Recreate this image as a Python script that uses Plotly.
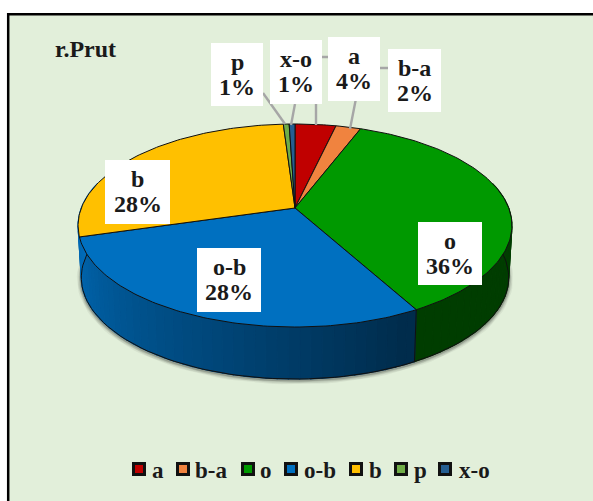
import numpy as np
import plotly.graph_objects as go

# ---- data ----
categories = ["a", "b-a", "o", "o-b", "b", "p", "x-o"]
shares = [3.6, 2.2, 36.2, 28.49, 28.49, 0.51, 0.51]
top_colors = ["#C00000", "#F0833F", "#009900", "#0070C0", "#FFC000", "#70AD47", "#255E91"]
chart_title = "r.Prut"

# ---- layout (pixel canvas) ----
W, H = 593, 501
APEX_X, APEX_Y = 295.0, 208.0
RX, RY, PERSP = 213.7, 98.5, 0.1725
DEPTH, BASE_SCALE = 52.0, 0.985
WALL_FROM, WALL_TO = 75.0, 285.0
label_boxes = {  # x0, x1, y0, y1
    "a": (328, 380, 37, 101), "b-a": (388, 441, 49, 112), "o": (418, 482, 222, 285),
    "o-b": (197, 261, 248, 312), "b": (105, 170, 160, 224), "p": (211, 263, 43, 106),
    "x-o": (270, 322, 40, 104),
}
leaders = [
    [(263, 93), (285, 124)],
    [(295, 104), (291, 125)],
    [(328, 57), (316, 57), (316, 125)],
    [(388, 68), (362, 68), (350, 129)],
]
legend_swatch_x = [139, 183, 248, 291, 356, 401, 445]
legend_text_x = [149.5, 192.5, 257.5, 301.5, 366.5, 411.5, 456.5]
LEGEND_Y = 470


def rim(theta_deg, lower=False):
    t = np.radians(np.asarray(theta_deg, dtype=float))
    w = 1 + PERSP * np.cos(t)
    dx = RX * np.sin(t) / w
    dy = -RY * np.cos(t) / w
    if lower:
        return APEX_X + BASE_SCALE * dx, APEX_Y + DEPTH + dy
    return APEX_X + dx, APEX_Y + dy


def shade(theta_deg):
    return np.interp(theta_deg, [90, 155, 200, 250, 280], [0.40, 0.40, 0.64, 0.88, 1.0])


def scaled(hexcol, f):
    r, g, b = [int(hexcol[i:i + 2], 16) for i in (1, 3, 5)]
    return f"rgb({int(r * f)},{int(g * f)},{int(b * f)})"


fig = go.Figure()
skip = dict(showlegend=False, hoverinfo="skip")

# soft shadow hugging the base rim
arc = np.arange(WALL_FROM, WALL_TO + 1, 2.0)
sx, sy = rim(arc, lower=True)
for lw, alpha in [(9, 0.05), (7, 0.07), (5, 0.10), (3, 0.16)]:
    fig.add_trace(go.Scatter(x=sx, y=sy + 1, mode="lines",
                             line=dict(color=f"rgba(0,0,0,{alpha})", width=lw), **skip))

edges = 360 * np.concatenate([[0], np.cumsum(shares)]) / sum(shares)
front_last = int(np.searchsorted(edges, 240.0)) - 1  # slice that reaches the left silhouette

# side wall, split into strips for the gradient
for i, col in enumerate(top_colors):
    if i > front_last:
        continue
    a0 = max(edges[i], WALL_FROM)
    a1 = WALL_TO if i == front_last else min(edges[i + 1], WALL_TO)
    if a1 <= a0:
        continue
    steps = np.linspace(a0, a1, max(2, int((a1 - a0) / 2.5) + 1))
    for s0, s1 in zip(steps[:-1], steps[1:]):
        seg = np.linspace(s0, s1, 3)
        tx, ty = rim(seg)
        bx, by = rim(seg, lower=True)
        c = scaled(col, float(shade((s0 + s1) / 2)))
        fig.add_trace(go.Scatter(x=np.r_[tx, bx[::-1], tx[0]], y=np.r_[ty, by[::-1], ty[0]],
                                 mode="lines", fill="toself", fillcolor=c,
                                 line=dict(color=c, width=1.2), **skip))
# side outlines
fig.add_trace(go.Scatter(x=sx, y=sy, mode="lines", line=dict(color="#101010", width=1), **skip))
for e in edges[1:front_last + 1]:
    if WALL_FROM < e < WALL_TO:
        tx, ty = rim(e)
        bx, by = rim(e, lower=True)
        fig.add_trace(go.Scatter(x=[tx, bx], y=[ty, by], mode="lines",
                                 line=dict(color="#101010", width=1), **skip))

# top face
for i, (cat, col) in enumerate(zip(categories, top_colors)):
    seg = np.linspace(edges[i], edges[i + 1], max(3, int(edges[i + 1] - edges[i]) + 2))
    x, y = rim(seg)
    fig.add_trace(go.Scatter(x=np.r_[APEX_X, x, APEX_X], y=np.r_[APEX_Y, y, APEX_Y],
                             mode="lines", fill="toself", fillcolor=col,
                             line=dict(color="#101010", width=1), name=cat, showlegend=False,
                             hovertemplate=f"{cat}: {shares[i]}%<extra></extra>"))

# legend swatches
for cat, col, lx in zip(categories, top_colors, legend_swatch_x):
    fig.add_trace(go.Scatter(x=[lx], y=[LEGEND_Y - 1], mode="markers", name=cat, showlegend=False,
                             hoverinfo="skip",
                             marker=dict(symbol="square", size=11, color=col,
                                         line=dict(color="#111111", width=3))))

FONT = "Liberation Serif"
shapes = [dict(type="rect", xref="x", yref="y", x0=8.2, x1=620, y0=14.3, y1=530,
               line=dict(color="#000000", width=2.5), fillcolor="#E2EFDA", layer="below")]
for pts in leaders:
    path = "M " + " L ".join(f"{px},{py}" for px, py in pts)
    shapes.append(dict(type="path", xref="x", yref="y", path=path, layer="above",
                       line=dict(color="#A6A6A6", width=2.4)))
annotations = []
pct = [int(np.floor(s + 0.5)) for s in shares]
for cat, p in zip(categories, pct):
    x0, x1, y0, y1 = label_boxes[cat]
    shapes.append(dict(type="rect", xref="x", yref="y", x0=x0, x1=x1, y0=y0, y1=y1,
                       line=dict(width=0), fillcolor="#FFFFFF", layer="above"))
    ym = (y0 + y1) / 2
    annotations.append(dict(x=(x0 + x1) / 2, y=ym - 13, text=f"<b>{cat}</b>", showarrow=False,
                            xref="x", yref="y", font=dict(family=FONT, size=24, color="#1a1a1a")))
    annotations.append(dict(x=(x0 + x1) / 2, y=ym + 12, text=f"<b>{p}%</b>", showarrow=False,
                            xref="x", yref="y", font=dict(family=FONT, size=24, color="#1a1a1a")))
annotations.append(dict(x=52.5, y=49, text=f"<b>{chart_title}</b>", showarrow=False, xanchor="left",
                        xref="x", yref="y", font=dict(family=FONT, size=24, color="#1a1a1a")))
for cat, lx in zip(categories, legend_text_x):
    annotations.append(dict(x=lx, y=LEGEND_Y, text=f"<b>{cat}</b>", showarrow=False, xanchor="left",
                            xref="x", yref="y", font=dict(family=FONT, size=23, color="#1a1a1a")))

fig.update_layout(
    width=W, height=H, margin=dict(l=0, r=0, t=0, b=0),
    paper_bgcolor="#FFFFFF", plot_bgcolor="rgba(0,0,0,0)",
    xaxis=dict(range=[0, W], visible=False, fixedrange=True),
    yaxis=dict(range=[H, 0], visible=False, fixedrange=True),
    shapes=shapes, annotations=annotations, showlegend=False,
)
fig.write_html("out.html", config=dict(displayModeBar=False),
               post_script="document.body.style.margin='0';document.body.style.overflow='hidden';")
